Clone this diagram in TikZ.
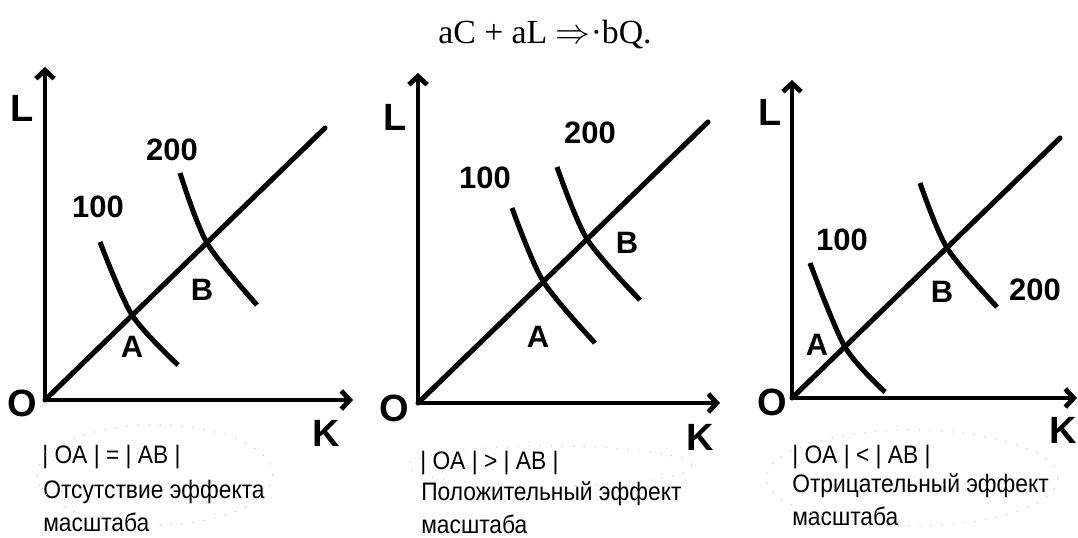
\documentclass[tikz,border=0pt]{standalone}
\usepackage{fontspec}
\setmainfont{Liberation Serif}
\setsansfont{Liberation Sans}
\newfontfamily\capfont{Liberation Sans}[FakeStretch=0.9]
\usetikzlibrary{arrows.meta, positioning}

\begin{document}
\begin{tikzpicture}[
    x=0.025cm, y=-0.025cm,
    axis/.style={line width=3.4pt, {Straight Barb[length=6pt,width=13pt]}-{Straight Barb[length=6pt,width=13pt]}},
    ray/.style={line width=3.6pt},
    isoquant/.style={line width=3.6pt},
    axislabel/.style={font=\sffamily\bfseries\fontsize{27}{27}\selectfont, inner sep=0pt},
    qlabel/.style={font=\sffamily\bfseries\fontsize{22}{22}\selectfont, inner sep=0pt},
    caption/.style={font=\capfont\fontsize{18}{23.5}\selectfont, inner sep=0pt, anchor=west, align=left},
    scribble/.style={gray!40, line width=0.8pt, dash pattern=on 0.8pt off 7pt}
]
\useasboundingbox (0,0) rectangle (1078,538);

% Formula on top
\node[font=\fontsize{24}{24}\selectfont] (title) at (545,35) {aC + aL $\Rightarrow$·bQ.};

% Left panel (no scale effect)
\coordinate (O1) at (45,400);
\coordinate (Ltop1) at (45,67);
\coordinate (Kend1) at (353,400);
\coordinate (ray1) at (325,128);
\coordinate (A1) at (132,315);
\coordinate (B1) at (207,243);
\draw[axis] (Ltop1) -- (O1) -- (Kend1);
\draw[ray, line cap=round] (O1) -- (ray1);
\draw[isoquant] plot[smooth] coordinates {(100,242) (A1) (178,365)};
\draw[isoquant] plot[smooth] coordinates {(180,173) (B1) (257,305)};
\node[axislabel] (L1) at (22,108) {L};
\node[axislabel] (o1) at (22,403) {O};
\node[axislabel] (K1) at (326,433) {K};
\node[qlabel] (q100a) at (98,207) {100};
\node[qlabel] (q200a) at (172,150) {200};
\node[qlabel] (lA1) at (132,347) {A};
\node[qlabel] (lB1) at (202,290) {B};
\node[caption] (rel1) at (42,457) {| OA | = | AB |};
\node[caption] (eff1) at (43,506) {Отсутствие эффекта\\масштаба};
\draw[scribble] (155,475) ellipse (118 and 50);

% Middle panel (positive scale effect)
\coordinate (O2) at (418,403);
\coordinate (Ltop2) at (418,73);
\coordinate (Kend2) at (720,403);
\coordinate (ray2) at (708,122);
\coordinate (A2) at (543,281);
\coordinate (B2) at (587,239);
\draw[axis] (Ltop2) -- (O2) -- (Kend2);
\draw[ray, line cap=round] (O2) -- (ray2);
\draw[isoquant] plot[smooth] coordinates {(512,208) (A2) (595,343)};
\draw[isoquant] plot[smooth] coordinates {(557,167) (B2) (640,300)};
\node[axislabel] (L2) at (395,117) {L};
\node[axislabel] (o2) at (394,408) {O};
\node[axislabel] (K2) at (700,437) {K};
\node[qlabel] (q100b) at (485,178) {100};
\node[qlabel] (q200b) at (590,133) {200};
\node[qlabel] (lA2) at (538,337) {A};
\node[qlabel] (lB2) at (627,243) {B};
\node[caption] (rel2) at (420,463) {| OA | > | AB |};
\node[caption] (eff2) at (421,508) {Положительный эффект\\масштаба};
\draw[scribble] (550,466) ellipse (142 and 20);

% Right panel (negative scale effect)
\coordinate (O3) at (792,398);
\coordinate (Ltop3) at (792,80);
\coordinate (Kend3) at (1077,398);
\coordinate (ray3) at (1060,138);
\coordinate (A3) at (845,347);
\coordinate (B3) at (947,248);
\draw[axis] (Ltop3) -- (O3) -- (Kend3);
\draw[ray, line cap=round] (O3) -- (ray3);
\draw[isoquant] plot[smooth] coordinates {(810,263) (A3) (885,392)};
\draw[isoquant] plot[smooth] coordinates {(920,183) (B3) (997,307)};
\node[axislabel] (L3) at (770,112) {L};
\node[axislabel] (o3) at (772,402) {O};
\node[axislabel] (K3) at (1063,430) {K};
\node[qlabel] (q100c) at (842,240) {100};
\node[qlabel] (q200c) at (1035,290) {200};
\node[qlabel] (lA3) at (817,345) {A};
\node[qlabel] (lB3) at (942,292) {B};
\node[caption] (rel3) at (792,457) {| OA | < | AB |};
\node[caption] (eff3) at (792,500) {Отрицательный эффект\\масштаба};
\draw[scribble] (912,478) ellipse (146 and 48);
\end{tikzpicture}
\end{document}
